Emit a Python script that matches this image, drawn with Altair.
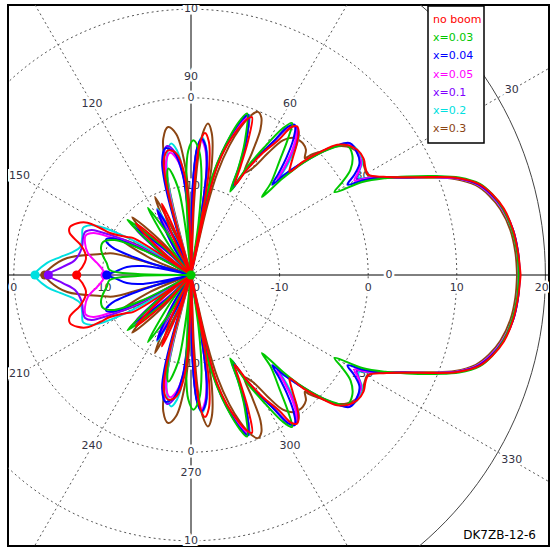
import altair as alt
import pandas as pd

# Gain patterns (angle in degrees, gain in dBi), upper half 0..180 deg in path order.
# The lower half is the mirror image.
NO_BOOM = [
    (0, 17.2), (4, 17.0), (8, 16.7), (12, 16.1), (15, 15.2), (17.5, 14.1), (20, 12.0), (22, 9.5),
    (24.5, 6.6), (27, 4.4), (29.5, 3.0), (31.5, 3.1), (34, 3.5), (37, 3.5), (39.5, 3.0), (41.7, 2.1),
    (43.6, 0.1), (45.3, -2.0), (46.3, -3.9), (47.5, -3.4), (49, -2.5), (51.2, -0.9), (53, 0.2),
    (54.5, 0.6), (55.8, 0.2), (57, -1.8), (59.5, -4.0), (62, -6.5), (64, -8.7), (65.5, -6.5),
    (67, -3.5), (68.9, -0.9), (70.5, -1.5), (72.5, -3.0), (74.5, -4.8), (76.5, -7.5), (77.6, -11.5),
    (78.5, -25), (79.5, -12), (80.5, -7.5), (82.4, -4.8), (84.4, -3.9), (86, -4.9), (87.3, -7.8),
    (88.2, -12), (89, -25), (91.5, -14), (93.8, -8.5), (96.8, -6.2), (100.4, -5.7), (103.2, -6.6),
    (105, -9), (106.2, -13), (107.2, -25), (109.5, -15.5), (112.2, -11.3), (115, -15), (116.5, -25),
    (131, -25), (132.5, -16), (137, -11.5), (141.5, -16), (144, -25), (145.5, -25), (147.5, -12.2),
    (149.3, -11.6), (152.6, -9.7), (152.7, -8.5), (153.2, -6.9), (155.5, -5.9), (158.4, -5.3),
    (160.9, -5.5), (164.5, -7.0), (168.3, -7.8), (171.5, -8.0), (175.8, -7.7), (180, -7.1),
]
X_003 = [
    (0, 17.0), (4, 16.9), (8, 16.6), (12, 16.0), (15, 15.2), (17.5, 14.2), (20, 12.2), (22, 9.8),
    (24.5, 6.8), (26.5, 4.5), (28.5, 2.0), (30, -1.3), (31.5, 0.0), (33.5, 1.6), (36.7, 2.7),
    (39.8, 2.9), (41.8, 1.6), (43.4, 0.0), (45, -2.1), (46.5, -5.0), (47.7, -8.1), (49, -6.3),
    (52.3, -3.6), (54.5, -1.2), (56.4, 0.6), (58, -0.5), (60, -3.2), (62.5, -6.2), (64.8, -9.6),
    (66, -7.0), (68, -3.8), (70.9, -0.7), (72.5, -1.8), (74.5, -4.0), (76.8, -7.0), (78.8, -10.5),
    (80, -14), (80.8, -25), (81.8, -14), (83.8, -9), (86.2, -6), (89, -4.8), (91.3, -6),
    (92.8, -9), (93.8, -14), (94.5, -25), (96.5, -15), (98.5, -10), (102, -7.7), (105, -10),
    (106.5, -15), (107.3, -25), (117, -25), (118.5, -16), (122.7, -11), (126.5, -16), (128, -25),
    (133, -25), (134.5, -15.5), (139, -10.5), (143, -15.5), (144.5, -25), (150, -25),
    (152.5, -14), (155.5, -10.5), (159.4, -9.4), (163.5, -9.4), (167.5, -9.8), (172, -10.4),
    (176.5, -10.8), (179, -14), (180, -25),
]
X_004 = [
    (0, 17.1), (4, 17.0), (8, 16.7), (12, 16.0), (15, 15.1), (17.5, 14.0), (20, 12.0), (22, 9.6),
    (24.5, 6.6), (27, 4.3), (28.8, 2.2), (30, 0.4), (31.5, 1.6), (33.5, 2.8), (36.5, 3.3),
    (39.7, 3.3), (41.8, 1.8), (43.6, 0.0), (45.5, -2.5), (47, -4.5), (48, -6.3), (49.3, -4.8),
    (51, -2.8), (53, -0.8), (55.3, 0.6), (56.8, 0.0), (58.3, -2.3), (60.7, -4.8), (63, -7.5),
    (64.5, -9.3), (66, -6.5), (67.8, -3.4), (70.4, -0.8), (72, -1.7), (74, -3.6), (76, -6.0),
    (78, -9.5), (79, -13.5), (79.8, -25), (80.6, -12), (81.8, -7.5), (83.7, -5.3), (85.5, -4.6),
    (87.2, -5.6), (88.5, -8.5), (89.4, -13), (90.2, -25), (92.5, -14), (94.8, -8.5), (98, -6.0),
    (101.6, -5.4), (104.3, -6.8), (105.8, -9), (107, -13), (108, -25), (112, -25),
    (113.5, -16), (117.5, -11.8), (121.5, -16), (123, -25), (134, -25), (135.5, -16), (140, -11.8),
    (144, -16), (146, -25), (150, -25), (152, -14), (155, -10.2), (157.5, -9.6), (160.5, -10.5),
    (163, -14), (164.5, -25), (167, -25), (169.5, -14.5), (172.9, -12.7), (177.7, -11.4),
    (180, -10.5),
]
X_005 = [
    (0, 17.0), (4, 16.9), (8, 16.6), (12, 15.9), (15, 15.0), (17.5, 13.9), (20, 11.9), (22, 9.5),
    (24.5, 6.6), (27, 4.3), (28.8, 2.6), (30, 1.3), (31.5, 2.1), (33.5, 3.0), (36.5, 3.3),
    (39.5, 3.2), (41.6, 1.9), (43.5, 0.0), (45.5, -2.6), (47.8, -5.5), (49, -4.0), (50.8, -2.0),
    (53, -0.3), (55.3, 0.4), (56.8, -0.2), (58.3, -2.4), (60.7, -4.9), (63, -7.4), (64.6, -9.2),
    (66, -6.6), (67.8, -3.6), (70, -1.0), (71.6, -1.8), (73.6, -3.6), (75.8, -6.0), (77.8, -9.5),
    (78.9, -13.5), (79.7, -25), (80.5, -12), (81.7, -7.8), (83.7, -5.6), (85.5, -4.8),
    (87.1, -5.8), (88.4, -8.6), (89.3, -13), (90.1, -25), (92.2, -14), (94.3, -9), (97, -6.8),
    (99.8, -6.0), (102.5, -7.0), (104.3, -9.3), (105.8, -13.5), (106.8, -25), (112.5, -25),
    (114, -16.5), (118, -12), (122, -16.5), (123.5, -25), (134.5, -25), (136, -16.5),
    (140.5, -12), (144.5, -16.5), (146.5, -25), (149, -25), (152, -13), (154.9, -9.9),
    (156.8, -8.0), (159.5, -7.3), (163.2, -7.5), (168, -8.1), (172.7, -9.3), (176.5, -10.0),
    (180, -10.3),
]
X_01 = [
    (0, 17.1), (4, 17.0), (8, 16.7), (12, 16.0), (15, 15.1), (17.5, 14.0), (20, 11.9), (22, 9.5),
    (24.5, 6.6), (27, 4.3), (28.8, 2.7), (30, 1.6), (31.5, 2.2), (33.5, 3.0), (36.5, 3.3),
    (39.5, 3.3), (41.6, 1.9), (43.5, 0.0), (45.5, -2.5), (47.7, -5.1), (49, -3.8), (50.7, -1.9),
    (52.8, -0.2), (55.2, 0.5), (56.7, -0.1), (58.2, -2.3), (60.6, -4.8), (63, -7.4), (64.6, -9.2),
    (66, -6.5), (67.8, -3.5), (70.2, -0.9), (71.8, -1.7), (73.8, -3.5), (75.8, -6.0), (77.8, -9.3),
    (78.9, -13.5), (79.7, -25), (80.5, -12), (81.7, -7.6), (83.7, -5.3), (85.5, -4.6),
    (87.1, -5.6), (88.4, -8.5), (89.3, -13), (90.1, -25), (92.4, -14), (94.5, -8.6), (97.5, -6.0),
    (100.5, -5.2), (103.2, -6.3), (105, -8.8), (106.4, -13), (107.4, -25), (112, -25),
    (113.5, -16.3), (117.5, -11.7), (121.5, -16.3), (123, -25), (134, -25), (135.5, -16.3),
    (139.5, -11.6), (143.5, -16.3), (145.5, -25), (149, -25), (151, -14), (152.5, -11.2),
    (154.7, -8.6), (155.6, -7.7), (157.9, -7.1), (160.6, -7.1), (166, -7.3), (172.6, -6.8),
    (176.4, -5.5), (180, -3.9),
]
X_02 = [
    (0, 17.0), (4, 16.9), (8, 16.6), (12, 15.9), (15, 15.0), (17.5, 13.9), (20, 11.9), (22, 9.5),
    (24.5, 6.6), (27, 4.3), (28.8, 2.8), (30, 1.9), (31.5, 2.2), (33, 3.0), (35.5, 3.4),
    (38.5, 3.4), (41.5, 2.1), (43.5, 0.0), (45.5, -2.6), (47.6, -4.8), (48.8, -3.5), (50.5, -1.5),
    (52.5, 0.0), (55, 0.5), (56.5, 0.0), (58, -2.2), (60.5, -4.6), (63, -7.3), (64.8, -9.2),
    (66.2, -6.5), (67.8, -3.5), (70, -0.8), (71.7, -1.6), (73.5, -3.3), (75.5, -5.6), (77.5, -9.0),
    (78.6, -13), (79.5, -25), (80.3, -12), (81.5, -7.5), (83.6, -5.2), (85.5, -4.4), (87.1, -5.5),
    (88.5, -8.5), (89.4, -13), (90.2, -25), (92.2, -14), (94.2, -8.5), (96.5, -5.8), (98.7, -5.0),
    (101.3, -6.2), (103.5, -8.6), (105.3, -13), (106.3, -25), (111.5, -25), (113, -16),
    (117, -11.6), (120.5, -16), (122, -25), (133, -25), (134.5, -16), (139, -11.4), (143, -16),
    (145, -25), (147, -25), (148.5, -14), (150, -11), (152, -8.4), (153.7, -7.3), (156.5, -6.7),
    (160.8, -7.0), (165.8, -7.1), (169, -6.4), (172.2, -5.1), (175.2, -3.7), (180, -2.4),
]
X_03 = [
    (0, 16.8), (4, 16.7), (8, 16.4), (12, 15.7), (15, 14.8), (17.5, 13.7), (20, 11.7), (22, 9.3),
    (24.5, 6.4), (27, 4.2), (29.5, 2.9), (31.5, 3.0), (34, 3.3), (37, 3.3), (39.5, 2.8),
    (41.7, 1.8), (43.6, 0.2), (45.2, -1.0), (45.7, -1.6), (47.5, -0.8), (49.7, -0.5), (51.5, -0.5),
    (53.3, -0.7), (55.7, -1.6), (57.8, -3.8), (59.9, -6.0), (62.5, -7.0), (63.5, -4.5),
    (64.5, -1.8), (66, -0.5), (67.7, -0.1), (69.5, -0.8), (71.5, -2.5), (73.5, -4.8), (75.5, -8),
    (76.8, -12), (77.5, -25), (78.3, -12), (79.5, -7), (81.7, -3.8), (83.6, -2.8), (85.3, -4),
    (86.6, -7), (87.6, -12), (88.4, -25), (91, -13), (93.2, -7.5), (96, -4.0), (98.8, -3.1),
    (101.5, -4.3), (103.2, -7.2), (104.6, -12), (105.6, -25), (109.5, -25), (111, -15.5),
    (114.8, -10.3), (118.5, -15.5), (120, -25), (130, -25), (131.5, -15), (135.5, -10.7),
    (140, -15), (141.5, -25), (147, -25), (148.5, -15), (153, -11), (157.5, -15), (159.5, -25),
    (163.5, -25), (164, -14), (164.5, -10.9), (167, -9.5), (172.2, -5.9), (177.2, -4.1),
    (180, -3.5),
]

SERIES = [
    ("no boom", "#ff0000", NO_BOOM),
    ("x=0.03", "#00c800", X_003),
    ("x=0.04", "#0000ff", X_004),
    ("x=0.05", "#ff00ff", X_005),
    ("x=0.1", "#8000ff", X_01),
    ("x=0.2", "#00e0e0", X_02),
    ("x=0.3", "#8b4513", X_03),
]
DRAW_ORDER = ["x=0.3", "x=0.2", "x=0.1", "x=0.05", "x=0.04", "x=0.03", "no boom"]
DOT_ORDER = ["x=0.03", "x=0.05", "x=0.04", "x=0.3", "x=0.1", "x=0.2", "no boom"]

RING_LEVELS = [-10, 0, 10]
OUTER_RING = 20
SPOKE_ANGLES = [30, 60, 120, 150, 210, 240, 300, 330]
AXIS_ANGLES = [0, 90, 180, 270]
ANGLE_LABELS = [0, 30, 60, 90, 120, 150, 210, 240, 270, 300, 330]
OUTER_LABEL_ANGLES = [30, 330]
H_TICKS = [(-20, 0, "-20"), (-10, 0, "-10"), (0, 0, "0"), (10, 0, "10"), (19.6, 0, "20"),
           (-10, 180, "-10"), (0, 180, "0")]
V_TICKS = [(-10, 90, "-10"), (0, 90, "0"), (10, 90, "10"),
           (-10, 270, "-10"), (0, 270, "0"), (10, 270, "10")]

# plot geometry: view is the framed area, pole of the diagram inside it
W, H = 541, 541
PX_PER_DB = 8.86
CX, CY = 183, 270
XS = alt.Scale(domain=[-CX / PX_PER_DB, (W - CX) / PX_PER_DB], nice=False, zero=False)
YS = alt.Scale(domain=[-(H - CY) / PX_PER_DB, CY / PX_PER_DB], nice=False, zero=False)

FONT = "DejaVu Sans"
LABEL_COLOR = "#333344"


def polar(chart, gain="gain", angle="angle"):
    return (chart
            .transform_calculate(r=f"max(datum.{gain} + 20, 0)")
            .transform_calculate(px=f"datum.r * cos(datum.{angle} * PI / 180)",
                                 py=f"datum.r * sin(datum.{angle} * PI / 180)"))


def xy():
    return dict(x=alt.X("px:Q", scale=XS, axis=None), y=alt.Y("py:Q", scale=YS, axis=None))


# --- pattern table: upper half then its mirror image
rows = []
for name, color, pts in SERIES:
    path = list(pts) + [(360 - a, g) for a, g in reversed(pts) if 0 < a < 180] + [(360, pts[0][1])]
    for i, (a, g) in enumerate(path):
        rows.append({"series": name, "order": i, "angle": a, "gain": g})
pattern = pd.DataFrame(rows)
colors = {name: color for name, color, _ in SERIES}

# --- grid
ring_rows = [{"level": lv, "angle": a, "k": i} for lv in RING_LEVELS + [OUTER_RING]
             for i, a in enumerate(range(0, 362, 2))]
rings = pd.DataFrame(ring_rows)
rings_dashed = polar(alt.Chart(rings).transform_filter(f"datum.level != {OUTER_RING}"), gain="level").mark_line(
    color="#555", strokeWidth=1, strokeDash=[2, 3], clip=True).encode(detail="level:N", order="k:Q", **xy())
ring_outer = polar(alt.Chart(rings).transform_filter(f"datum.level == {OUTER_RING}"), gain="level").mark_line(
    color="#444", strokeWidth=1, clip=True).encode(order="k:Q", **xy())

spokes = pd.DataFrame({"angle": SPOKE_ANGLES})
axes_df = pd.DataFrame({"angle": AXIS_ANGLES})


def spoke_layer(df, **style):
    return (alt.Chart(df)
            .transform_calculate(x0="0", y0="0",
                                 x1="50 * cos(datum.angle * PI / 180)",
                                 y1="50 * sin(datum.angle * PI / 180)")
            .mark_rule(clip=True, **style)
            .encode(x=alt.X("x0:Q", scale=XS, axis=None), y=alt.Y("y0:Q", scale=YS, axis=None),
                    x2="x1:Q", y2="y1:Q"))


spoke_dashed = spoke_layer(spokes, color="#555", strokeWidth=1, strokeDash=[2, 3])
spoke_axes = spoke_layer(axes_df, color="black", strokeWidth=1)

# --- labels (white halo first, then the text)
def text_layers(df, gain, angle, dy=0, align="center"):
    base = polar(alt.Chart(df), gain=gain, angle=angle)
    halo = base.mark_text(font=FONT, fontSize=11, align=align, baseline="middle", dy=dy,
                          color="white", stroke="white", strokeWidth=5, clip=True
                          ).encode(text="label:N", **xy())
    txt = base.mark_text(font=FONT, fontSize=11, align=align, baseline="middle", dy=dy,
                         color=LABEL_COLOR, clip=True).encode(text="label:N", **xy())
    return [halo, txt]


h_ticks = pd.DataFrame(H_TICKS, columns=["level", "angle", "label"])
v_ticks = pd.DataFrame(V_TICKS, columns=["level", "angle", "label"])
ang_inner = pd.DataFrame({"angle": ANGLE_LABELS, "label": [str(a) for a in ANGLE_LABELS], "lr": 2.35})
ang_outer = pd.DataFrame({"angle": OUTER_LABEL_ANGLES, "label": [str(a) for a in OUTER_LABEL_ANGLES],
                          "lr": 21.8})

label_layers = (text_layers(h_ticks, "level", "angle", dy=13)
                + text_layers(v_ticks, "level", "angle")
                + text_layers(ang_inner, "lr", "angle")
                + text_layers(ang_outer, "lr", "angle"))

# --- pattern curves
curve_layers = []
for name in DRAW_ORDER:
    curve_layers.append(
        polar(alt.Chart(pattern).transform_filter(alt.datum.series == name))
        .mark_line(interpolate="catmull-rom", strokeWidth=2, color=colors[name], clip=True)
        .encode(order="order:Q", **xy()))

# --- markers at 180 degrees
dot_layers = []
for name in DOT_ORDER:
    dot_layers.append(
        polar(alt.Chart(pattern).transform_filter((alt.datum.series == name) & (alt.datum.angle == 180)))
        .mark_circle(size=85, opacity=1, color=colors[name])
        .encode(**xy()))

# --- legend box
legend_box = alt.Chart(pd.DataFrame({"k": [0]})).mark_rect(
    fill="white", stroke="black", strokeWidth=1.5).encode(
    x=alt.value(420), x2=alt.value(476), y=alt.value(1), y2=alt.value(138))
legend_text = []
for i, (name, color, _) in enumerate(SERIES):
    legend_text.append(
        alt.Chart(pd.DataFrame({"label": [name]})).mark_text(
            font=FONT, fontSize=11, align="left", baseline="middle", color=color).encode(
            text="label:N", x=alt.value(425), y=alt.value(15 + i * 18.2)))

caption = alt.Chart(pd.DataFrame({"label": ["DK7ZB-12-6"]})).mark_text(
    font=FONT, fontSize=12, align="right", baseline="middle", color="black").encode(
    text="label:N", x=alt.value(528), y=alt.value(530))

chart = alt.layer(
    rings_dashed, ring_outer, spoke_dashed, spoke_axes,
    *label_layers, *curve_layers, *dot_layers,
    legend_box, *legend_text, caption,
).properties(
    width=W, height=H,
    padding={"left": 8, "top": 5, "right": 1, "bottom": 2},
    autosize=alt.AutoSizeParams(type="none"),
    background="white",
).configure_view(stroke="black", strokeWidth=2)

chart.save("out.html", embed_options={"renderer": "svg", "actions": False})
